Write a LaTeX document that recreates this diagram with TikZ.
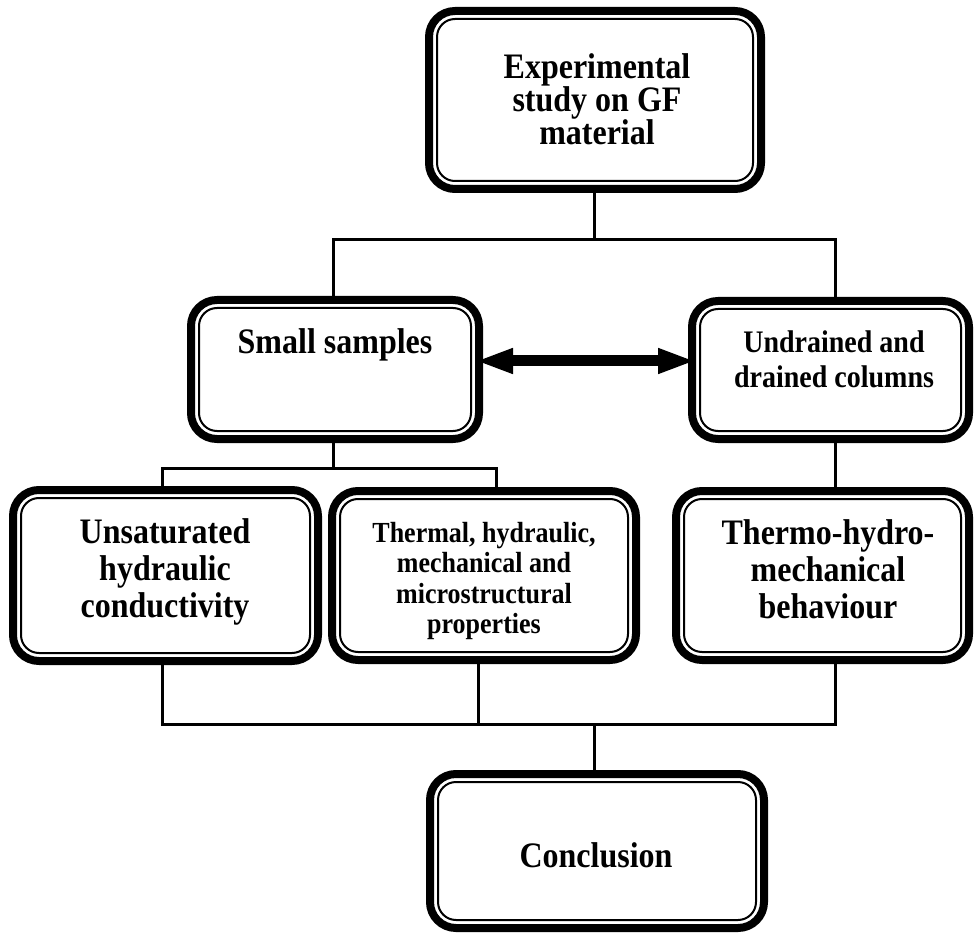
\documentclass[tikz,border=0pt]{standalone}
\usepackage{fontspec}
\setmainfont{Liberation Serif}
\usetikzlibrary{arrows.meta}
\tikzset{
  gbox/.style={draw=black, fill=white, line width=8pt, rounded corners=26pt,
    inner sep=0pt, outer sep=0pt,
    path picture={\draw[line width=2pt, rounded corners=18pt]
      ([shift={(8pt,-8pt)}]path picture bounding box.north west) rectangle
      ([shift={(-8pt,8pt)}]path picture bounding box.south east);}},
  lbl/.style={align=center, inner sep=0pt, yscale=1.12, transform shape},
  conn/.style={draw=black, line width=3pt},
  bigarrow/.style={draw=black, line width=11pt,
    {Triangle[length=38pt,width=23pt]}-{Triangle[length=38pt,width=23pt]},
    shorten <=-4pt, shorten >=-4pt}
}
\begin{document}
\begin{tikzpicture}[x=1pt,y=-1pt]
\useasboundingbox (0,0) rectangle (975,933);
% boxes
\node[gbox, minimum width=332pt, minimum height=178pt] (top) at (595,100) {};
\node[gbox, minimum width=288pt, minimum height=139pt] (ss) at (335,369.5) {};
\node[gbox, minimum width=277pt, minimum height=138pt] (ud) at (830.5,370) {};
\node[gbox, minimum width=305pt, minimum height=171pt] (us) at (165.5,575.5) {};
\node[gbox, minimum width=304pt, minimum height=169pt] (th) at (484,575.5) {};
\node[gbox, minimum width=293pt, minimum height=169pt] (tm) at (822.5,575.5) {};
\node[gbox, minimum width=334pt, minimum height=154pt] (co) at (597,851) {};
% texts
\node[lbl, font=\fontsize{32}{29.5}\selectfont\bfseries] (ttop) at (597,99) {Experimental\\study on GF\\material};
\node[lbl, font=\fontsize{32}{32}\selectfont\bfseries] (tss) at (335,345) {Small samples};
\node[lbl, font=\fontsize{28}{31.3}\selectfont\bfseries] (tud) at (834,359) {Undrained and\\drained columns};
\node[lbl, font=\fontsize{32}{33}\selectfont\bfseries] (tus) at (165,572) {Unsaturated\\hydraulic\\conductivity};
\node[lbl, font=\fontsize{26}{27.2}\selectfont\bfseries] (tth) at (484,581) {Thermal, hydraulic,\\mechanical and\\microstructural\\properties};
\node[lbl, font=\fontsize{32}{33}\selectfont\bfseries] (ttm) at (828,569) {Thermo-hydro-\\mechanical\\behaviour};
\node[lbl, font=\fontsize{32}{32}\selectfont\bfseries] (tco) at (596,855) {Conclusion};
% junctions
\coordinate (j1) at (594,240);
\coordinate (j2) at (333,468);
\coordinate (j3) at (594,724);
% connectors
\draw[conn] (j1 |- top.south) -- (j1);
\draw[conn] (j2 |- ss.north) |- (j1) -| ([xshift=4.5pt]ud.north);
\draw[conn] (j2 |- ss.south) -- (j2);
\draw[conn] ([xshift=-3.5pt]us.north) |- (j2) -| ([xshift=12pt]th.north);
\draw[conn] ([xshift=4.5pt]ud.south) -- ([xshift=4.5pt]ud.south |- tm.north);
\draw[conn] ([xshift=-3.5pt]us.south) |- ([xshift=12.5pt]tm.south |- j3) -- ([xshift=12.5pt]tm.south);
\draw[conn] ([xshift=-6pt]th.south) -- ([xshift=-6pt]th.south |- j3);
\draw[conn] (j3) -- (j3 |- co.north);
\draw[bigarrow] ([yshift=8.5pt]ss.east) -- ([yshift=8.5pt]ss.east -| ud.west);
\end{tikzpicture}
\end{document}
